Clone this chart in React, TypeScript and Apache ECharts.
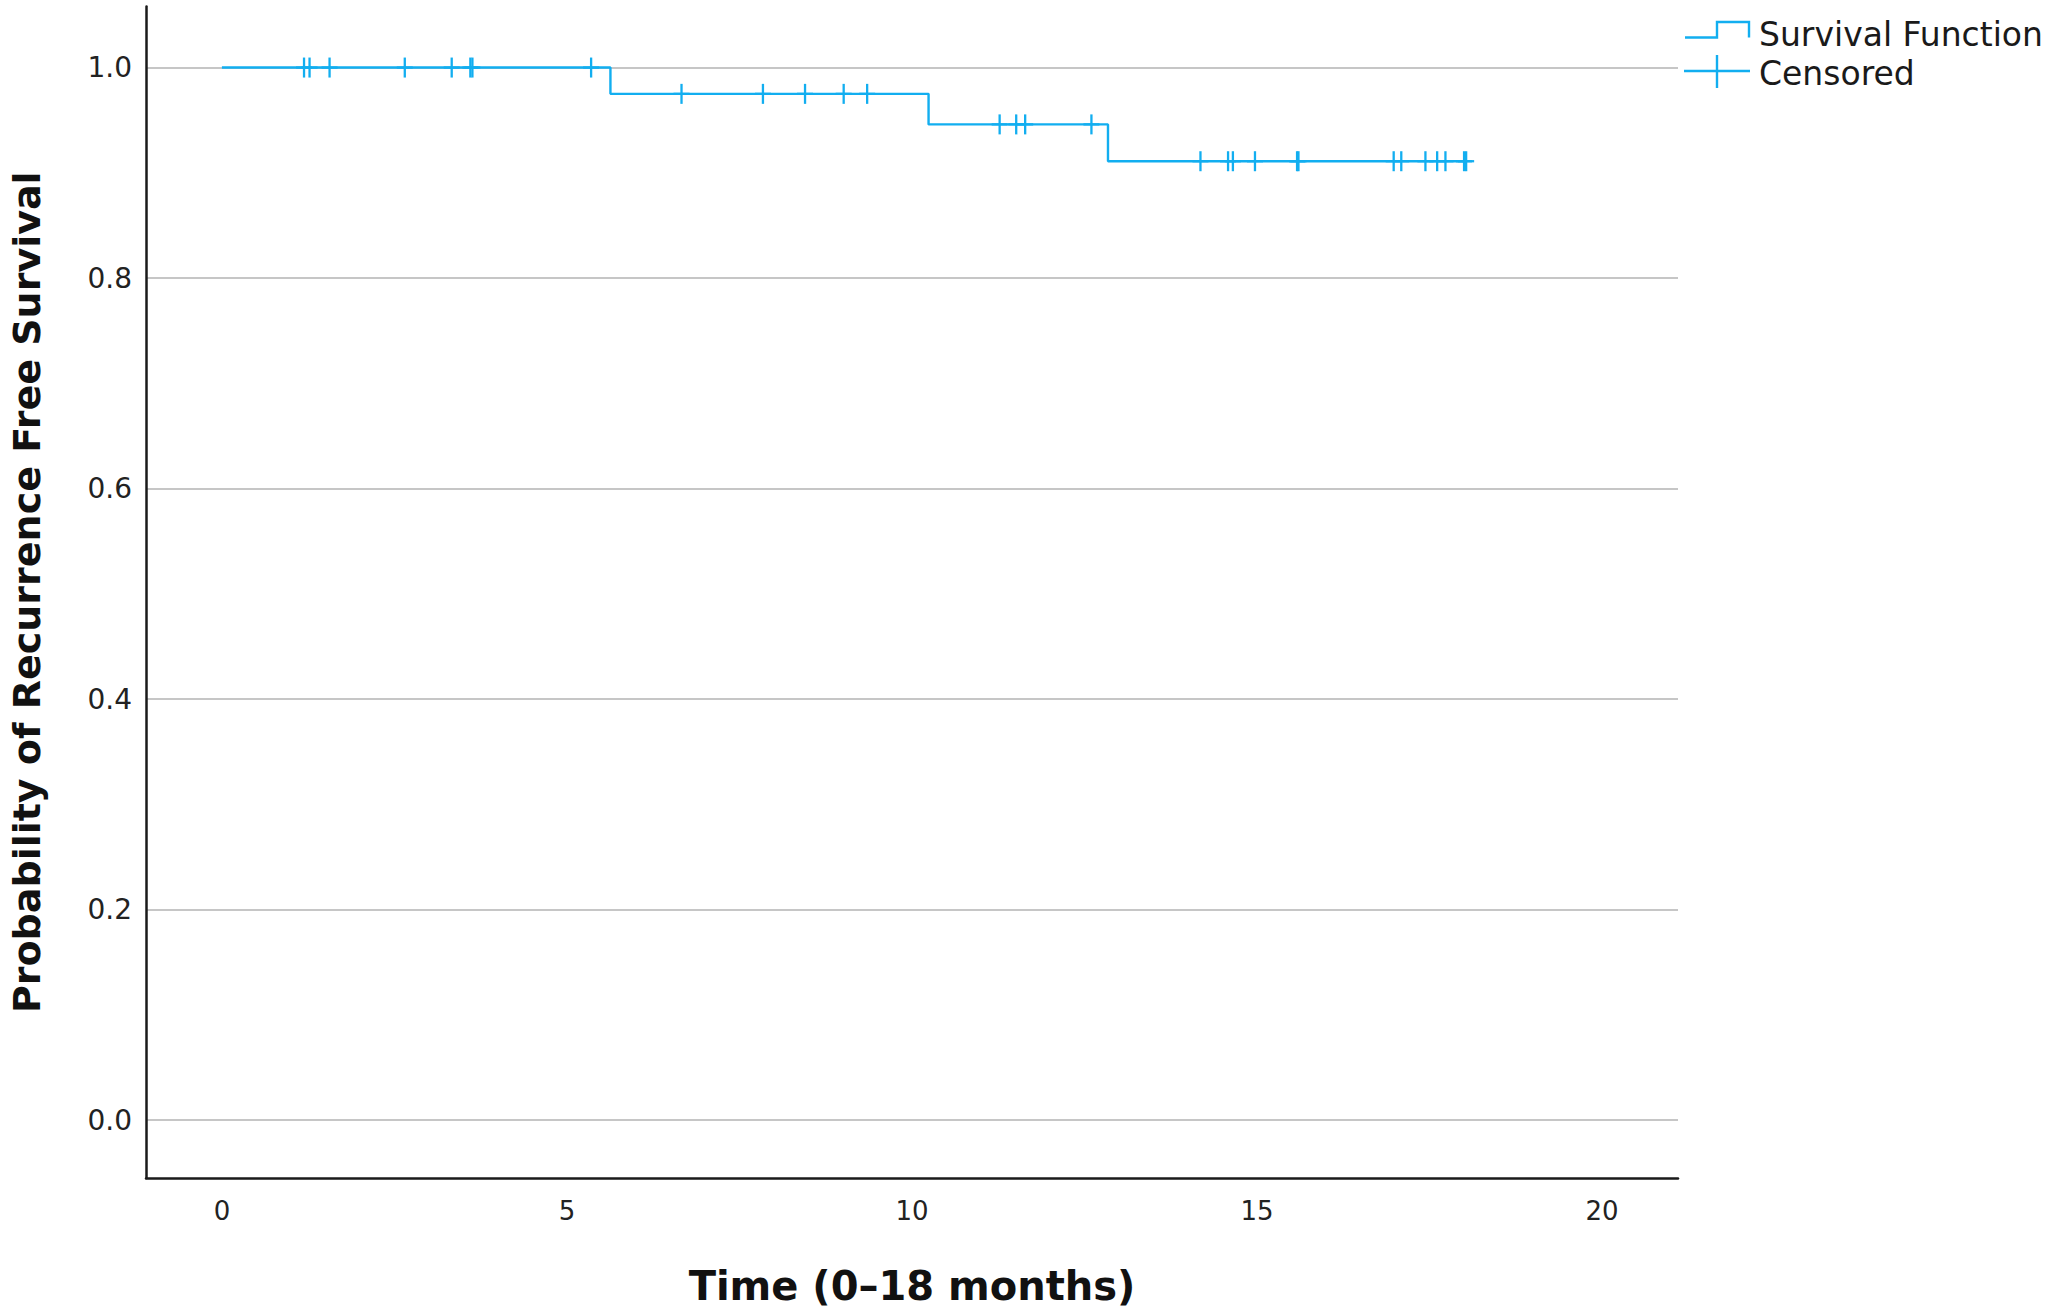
import React, { useEffect, useRef } from "react";
import * as echarts from "echarts";

const eventTimes = [5.63, 10.24, 12.84];
const survivalLevels = [1.0, 0.975, 0.946, 0.911];
const startTime = 0;
const lastTime = 18.03;
const censorTimes = [
  1.19, 1.27, 1.56, 2.65, 3.33, 3.6, 3.63, 5.35, 6.66, 7.84, 8.45, 9.01, 9.35,
  11.27, 11.51, 11.64, 12.6, 14.18, 14.58, 14.65, 14.97, 15.58, 15.6, 16.98,
  17.09, 17.44, 17.61, 17.73, 18.0, 18.03,
];
const xTicks = [0, 5, 10, 15, 20];
const yTicks = [0, 0.2, 0.4, 0.6, 0.8, 1.0];
const xTitle = "Time (0–18 months)";
const yTitle = "Probability of Recurrence Free Survival";
const legendNames = ["Survival Function", "Censored"];

const BLUE = "#12aef0";

function levelAt(t: number): number {
  let k = 0;
  for (const e of eventTimes) if (e <= t) k++;
  return survivalLevels[k];
}

export default function App() {
  const ref = useRef<HTMLDivElement>(null);
  useEffect(() => {
    if (!ref.current) return;
    const chart = echarts.init(ref.current, null, { renderer: "svg" });
    const stepData: number[][] = [[startTime, survivalLevels[0]]];
    eventTimes.forEach((t, i) => stepData.push([t, survivalLevels[i + 1]]));
    stepData.push([lastTime, survivalLevels[survivalLevels.length - 1]]);
    const censorData = censorTimes.map((t) => [t, levelAt(t)]);

    chart.setOption({
      animation: false,
      backgroundColor: "#ffffff",
      grid: { left: 145, right: 378, top: 6.5, bottom: 137, containLabel: false },
      xAxis: {
        type: "value",
        min: -1.1,
        max: 21.1,
        axisLine: { show: true, onZero: false, lineStyle: { color: "#1a1a1a", width: 2.5 } },
        axisTick: { show: false, customValues: xTicks },
        axisLabel: {
          customValues: xTicks,
          fontFamily: "DejaVu Sans",
          fontSize: 26,
          color: "#222",
          margin: 20,
        },
        splitLine: { show: false },
        name: xTitle,
        nameLocation: "middle",
        nameGap: 88,
        nameTextStyle: {
          fontFamily: "DejaVu Sans",
          fontWeight: "bold",
          fontSize: 40,
          color: "#111",
        },
      },
      yAxis: {
        type: "value",
        min: -0.055,
        max: 1.058,
        axisLine: { show: true, onZero: false, lineStyle: { color: "#1a1a1a", width: 2.5 } },
        axisTick: { show: false, customValues: yTicks },
        axisLabel: {
          customValues: yTicks,
          formatter: (v: number) => v.toFixed(1),
          fontFamily: "DejaVu Sans",
          fontSize: 28,
          color: "#222",
          margin: 14,
        },
        splitLine: { show: true, lineStyle: { color: "#b3b3b3", width: 1.6 } },
        name: yTitle,
        nameLocation: "middle",
        nameGap: 100,
        nameTextStyle: {
          fontFamily: "DejaVu Sans",
          fontWeight: "bold",
          fontSize: 38,
          color: "#111",
        },
      },
      series: [
        {
          name: legendNames[0],
          type: "line",
          step: "end",
          data: stepData,
          showSymbol: false,
          lineStyle: { color: BLUE, width: 2.4 },
          z: 3,
        },
        {
          name: legendNames[1],
          type: "custom",
          data: censorData,
          z: 4,
          renderItem: (params: any, api: any) => {
            const p = api.coord([api.value(0), api.value(1)]);
            const st = { stroke: BLUE, lineWidth: 2.3 };
            return {
              type: "group",
              children: [
                { type: "line", shape: { x1: p[0], y1: p[1] - 10, x2: p[0], y2: p[1] + 10 }, style: st },
                { type: "line", shape: { x1: p[0] - 8, y1: p[1], x2: p[0] + 8, y2: p[1] }, style: st },
              ],
            };
          },
        },
      ],
      graphic: [
        {
          type: "polyline",
          shape: { points: [[1685, 37.5], [1717, 37.5], [1717, 22], [1749, 22], [1749, 37.5]] },
          style: { stroke: BLUE, lineWidth: 2.4, fill: null },
        },
        {
          type: "line",
          shape: { x1: 1684, y1: 71, x2: 1750, y2: 71 },
          style: { stroke: BLUE, lineWidth: 2.4 },
        },
        {
          type: "line",
          shape: { x1: 1717, y1: 55, x2: 1717, y2: 88 },
          style: { stroke: BLUE, lineWidth: 2.4 },
        },
        {
          type: "text",
          x: 1759,
          y: 34,
          style: {
            text: legendNames[0],
            fontFamily: "DejaVu Sans",
            fontSize: 33,
            fill: "#1a1a1a",
            textVerticalAlign: "middle",
          },
        },
        {
          type: "text",
          x: 1759,
          y: 73,
          style: {
            text: legendNames[1],
            fontFamily: "DejaVu Sans",
            fontSize: 33,
            fill: "#1a1a1a",
            textVerticalAlign: "middle",
          },
        },
      ],
    });
    return () => chart.dispose();
  }, []);
  return (
    <div
      ref={ref}
      style={{ position: "fixed", left: 0, top: 0, width: "2056px", height: "1315px" }}
    />
  );
}
